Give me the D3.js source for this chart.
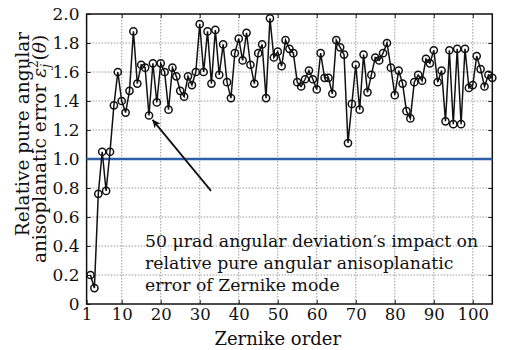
<!DOCTYPE html>
<html>
<head>
<meta charset="utf-8">
<script src="https://cdn.jsdelivr.net/npm/d3@7"></script>
<style>
  body { margin: 0; background: #fff; }
  text { font-family: "DejaVu Serif", serif; fill: #111; }
</style>
</head>
<body>
<div id="chart"></div>
<script>
// Data: Zernike order 2..105
const orders = d3.range(2, 106)
const errors = [
  0.20, 0.11, 0.76, 1.05, 0.78, 1.05, 1.37, 1.60, 1.40, 1.32,
  1.47, 1.88, 1.52, 1.65, 1.63, 1.30, 1.66, 1.39, 1.66, 1.60,
  1.34, 1.63, 1.57, 1.47, 1.43, 1.57, 1.51, 1.60, 1.93, 1.60,
  1.88, 1.52, 1.89, 1.58, 1.79, 1.53, 1.42, 1.73, 1.83, 1.68,
  1.87, 1.65, 1.52, 1.73, 1.79, 1.42, 1.97, 1.70, 1.74, 1.64,
  1.82, 1.76, 1.73, 1.53, 1.50, 1.55, 1.61, 1.55, 1.48, 1.73,
  1.56, 1.56, 1.45, 1.82, 1.77, 1.72, 1.11, 1.38, 1.65, 1.34,
  1.72, 1.46, 1.58, 1.70, 1.68, 1.73, 1.80, 1.63, 1.44, 1.61,
  1.52, 1.33, 1.28, 1.53, 1.58, 1.54, 1.69, 1.66, 1.75, 1.53,
  1.61, 1.26, 1.75, 1.24, 1.76, 1.24, 1.76, 1.49, 1.51, 1.71,
  1.62, 1.50, 1.58, 1.56
]
const referenceLevel = 1.0
const xTicks = [1, 10, 20, 30, 40, 50, 60, 70, 80, 90, 100]
const yTicks = [0, 0.2, 0.4, 0.6, 0.8, 1.0, 1.2, 1.4, 1.6, 1.8, 2.0]
const arrowFrom = [32.9, 0.78]
const arrowTo = [17.9, 1.27]
const noteLines = [
  "50 \u03bcrad angular deviation\u2032s impact on",
  "relative pure angular anisoplanatic",
  "error of Zernike mode"
]

const dataset = orders.map((o, i) => ({ order: o, value: errors[i] }))

// Dimensions
const dims = { width: 509, height: 350, left: 86.6, right: 492.3, top: 14, bottom: 304 }

const svg = d3.select('#chart')
  .append('svg')
  .attr('width', dims.width)
  .attr('height', dims.height)

// Scales
const xScale = d3.scaleLinear().domain([1, 105]).range([dims.left, dims.right])
const yScale = d3.scaleLinear().domain([0, 2]).range([dims.bottom, dims.top])

// Grid
const grid = svg.append('g')
  .attr('stroke', '#9a9a9a')
  .attr('stroke-width', 1)
  .attr('stroke-dasharray', '1.5,1.5')
grid.selectAll('line.v')
  .data(xTicks.filter(t => t > 1))
  .join('line')
  .attr('class', 'v')
  .attr('x1', d => xScale(d)).attr('x2', d => xScale(d))
  .attr('y1', dims.top).attr('y2', dims.bottom)
grid.selectAll('line.h')
  .data(yTicks.filter(t => t > 0 && t < 2))
  .join('line')
  .attr('class', 'h')
  .attr('x1', dims.left).attr('x2', dims.right)
  .attr('y1', d => yScale(d)).attr('y2', d => yScale(d))

// Axes (ticks inside, on all four sides)
const tickFmt = d => d === 0 ? '0' : d3.format('.1f')(d)
const fontSize = 17

const xAxis = svg.append('g')
  .attr('transform', `translate(0, ${dims.bottom})`)
  .call(d3.axisBottom(xScale).tickValues(xTicks).tickSize(-4).tickSizeOuter(0).tickPadding(4))
xAxis.select('.domain').remove()
xAxis.selectAll('text').attr('font-size', 16.5).attr('font-family', 'DejaVu Serif')

svg.append('g')
  .attr('transform', `translate(0, ${dims.top})`)
  .call(d3.axisTop(xScale).tickValues(xTicks.filter(t => t > 1)).tickSize(-4).tickSizeOuter(0).tickFormat(''))
  .select('.domain').remove()

const yAxis = svg.append('g')
  .attr('transform', `translate(${dims.left}, 0)`)
  .call(d3.axisLeft(yScale).tickValues(yTicks).tickSize(-4).tickSizeOuter(0).tickPadding(7).tickFormat(tickFmt))
yAxis.select('.domain').remove()
yAxis.selectAll('text').attr('font-size', fontSize).attr('font-family', 'DejaVu Serif')

svg.append('g')
  .attr('transform', `translate(${dims.right}, 0)`)
  .call(d3.axisRight(yScale).tickValues(yTicks.filter(t => t > 0 && t < 2)).tickSize(-4).tickSizeOuter(0).tickFormat(''))
  .select('.domain').remove()

svg.selectAll('.tick line').attr('stroke', '#222')

// Frame
svg.append('rect')
  .attr('x', dims.left).attr('y', dims.top)
  .attr('width', dims.right - dims.left).attr('height', dims.bottom - dims.top)
  .attr('fill', 'none').attr('stroke', '#111').attr('stroke-width', 1.5)

// Reference line at 1.0
svg.append('line')
  .attr('x1', dims.left).attr('x2', dims.right)
  .attr('y1', yScale(referenceLevel)).attr('y2', yScale(referenceLevel))
  .attr('stroke', '#2f5ea8').attr('stroke-width', 2.5)

// Series line and markers
const line = d3.line().x(d => xScale(d.order)).y(d => yScale(d.value))
svg.append('path')
  .datum(dataset)
  .attr('d', line)
  .attr('fill', 'none')
  .attr('stroke', '#111')
  .attr('stroke-width', 1.5)

svg.append('g')
  .selectAll('circle')
  .data(dataset)
  .join('circle')
  .attr('cx', d => xScale(d.order))
  .attr('cy', d => yScale(d.value))
  .attr('r', 3.6)
  .attr('fill', 'none')
  .attr('stroke', '#111')
  .attr('stroke-width', 1.5)

// Arrow annotation
svg.append('defs').append('marker')
  .attr('id', 'head')
  .attr('viewBox', '0 0 10 10')
  .attr('refX', 10).attr('refY', 5)
  .attr('markerWidth', 11).attr('markerHeight', 8)
  .attr('markerUnits', 'userSpaceOnUse')
  .attr('orient', 'auto')
  .append('path')
  .attr('d', 'M0,0 L10,5 L0,10 L3,5 Z')
  .attr('fill', '#111')

svg.append('line')
  .attr('x1', xScale(arrowFrom[0])).attr('y1', yScale(arrowFrom[1]))
  .attr('x2', xScale(arrowTo[0])).attr('y2', yScale(arrowTo[1]))
  .attr('stroke', '#111').attr('stroke-width', 1.8)
  .attr('marker-end', 'url(#head)')

svg.append('text')
  .attr('font-size', 17.3)
  .selectAll('tspan')
  .data(noteLines)
  .join('tspan')
  .attr('x', 145)
  .attr('y', (d, i) => 247 + i * 22)
  .text(d => d)

// Axis titles
svg.append('text')
  .attr('x', xScale(50)).attr('y', 345)
  .attr('text-anchor', 'middle')
  .attr('font-size', 18)
  .text('Zernike order')

svg.append('text')
  .attr('transform', 'translate(29, 134) rotate(-90)')
  .attr('text-anchor', 'middle')
  .attr('font-size', 18.5)
  .text('Relative pure angular')

const yl2 = svg.append('text')
  .attr('transform', 'translate(46, 149) rotate(-90)')
  .attr('text-anchor', 'middle')
  .attr('font-size', 18.5)
yl2.append('tspan').text('anisoplanatic error ')
yl2.append('tspan').attr('font-style', 'italic').text('\u03b5')
yl2.append('tspan').attr('font-style', 'italic').attr('font-size', 12).attr('dy', 4).text('j')
yl2.append('tspan').attr('font-size', 12).attr('dx', -4).attr('dy', -12).text('2')
yl2.append('tspan').attr('dy', 8).text('(')
yl2.append('tspan').attr('font-style', 'italic').text('\u03b8')
yl2.append('tspan').text(')')
</script>
</body>
</html>
